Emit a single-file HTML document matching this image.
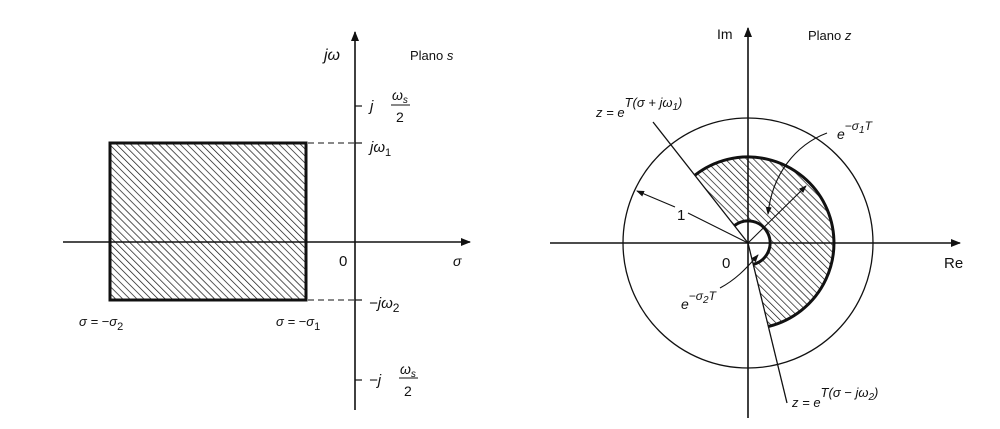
<!DOCTYPE html>
<html><head><meta charset="utf-8"><style>
html,body{margin:0;padding:0;background:#fff;}
svg{display:block;}
text{font-family:"Liberation Sans",sans-serif;fill:#111;}
.i{font-style:italic;}
</style></head><body>
<svg width="1000" height="429" viewBox="0 0 1000 429" xmlns="http://www.w3.org/2000/svg">
<defs>
<pattern id="h" patternUnits="userSpaceOnUse" width="5" height="5" patternTransform="rotate(-45)">
<line x1="0" y1="0" x2="0" y2="5" stroke="#111" stroke-width="1.4"/>
</pattern>
<marker id="a" markerWidth="10" markerHeight="8" refX="9" refY="4" orient="auto" markerUnits="userSpaceOnUse">
<path d="M0,0 L10,4 L0,8 Z" fill="#111"/></marker>
<marker id="s" markerWidth="8" markerHeight="6" refX="7" refY="3" orient="auto" markerUnits="userSpaceOnUse">
<path d="M0,0 L8,3 L0,6 Z" fill="#111"/></marker>
</defs>
<g stroke="#111" fill="none">
<rect x="110" y="143" width="196" height="157" fill="url(#h)" stroke-width="3"/>
<line x1="63" y1="242" x2="470" y2="242" stroke-width="1.6" marker-end="url(#a)"/>
<line x1="355" y1="410" x2="355" y2="32" stroke-width="1.6" marker-end="url(#a)"/>
<line x1="308" y1="143" x2="355" y2="143" stroke-dasharray="6,4" stroke-width="1"/>
<line x1="308" y1="300" x2="355" y2="300" stroke-dasharray="6,4" stroke-width="1"/>
<line x1="355" y1="106" x2="362" y2="106" stroke-width="1.2"/>
<line x1="355" y1="143" x2="362" y2="143" stroke-width="1.2"/>
<line x1="355" y1="300" x2="362" y2="300" stroke-width="1.2"/>
<line x1="355" y1="380" x2="362" y2="380" stroke-width="1.2"/>
<circle cx="748" cy="243" r="125" stroke-width="1.3"/>
<path d="M734.4,225.7 L695.0,175.2 A86,86 0 1 1 768.8,326.4 L753.3,264.3 A22,22 0 1 0 734.4,225.7 Z" fill="url(#h)" stroke="none"/>
<path d="M695.0,175.2 A86,86 0 1 1 768.8,326.4" stroke-width="3"/>
<path d="M753.3,264.3 A22,22 0 1 0 734.4,225.7" stroke-width="3"/>
<line x1="748" y1="243" x2="653" y2="122" stroke-width="1.3"/>
<line x1="748" y1="243" x2="787" y2="403" stroke-width="1.3"/>
<line x1="550" y1="243" x2="960" y2="243" stroke-width="1.6" marker-end="url(#a)"/>
<line x1="748" y1="418" x2="748" y2="28" stroke-width="1.6" marker-end="url(#a)"/>
<line x1="748" y1="243" x2="806" y2="186" stroke-width="1.1" marker-end="url(#s)"/>
<path d="M688,213 L748,243" stroke-width="1.1"/>
<path d="M675,207 L637,191" stroke-width="1.1" marker-end="url(#s)"/>
<path d="M827,133 C795,145 772,175 768,214" stroke-width="1.1" marker-end="url(#s)"/>
<path d="M720,288 C735,280 745,270 758,255" stroke-width="1.1" marker-end="url(#s)"/>
</g>
<text x="324" y="60" font-size="16" class="i">jω</text>
<text x="410" y="60" font-size="13">Plano <tspan class="i">s</tspan></text>
<text x="370" y="111" font-size="15" class="i">j</text>
<text x="392" y="100" font-size="14" class="i">ω<tspan font-size="10" dy="3">s</tspan></text>
<line x1="391" y1="105" x2="410" y2="105" stroke="#111" stroke-width="1"/>
<text x="396" y="122" font-size="14">2</text>
<text x="370" y="152" font-size="15" class="i">jω<tspan font-size="11" dy="4" font-style="normal">1</tspan></text>
<text x="339" y="266" font-size="15">0</text>
<text x="453" y="266" font-size="14" class="i">σ</text>
<text x="369" y="308" font-size="15" class="i">−jω<tspan font-size="12" dy="4" font-style="normal">2</tspan></text>
<text x="369" y="385" font-size="15" class="i">−j</text>
<text x="400" y="374" font-size="14" class="i">ω<tspan font-size="10" dy="3">s</tspan></text>
<line x1="399" y1="378" x2="418" y2="378" stroke="#111" stroke-width="1"/>
<text x="404" y="396" font-size="14">2</text>
<text x="79" y="326" font-size="13" class="i">σ = −σ<tspan font-size="11" dy="4" font-style="normal">2</tspan></text>
<text x="276" y="326" font-size="13" class="i">σ = −σ<tspan font-size="11" dy="4" font-style="normal">1</tspan></text>
<text x="717" y="39" font-size="14">Im</text>
<text x="808" y="40" font-size="13">Plano <tspan class="i">z</tspan></text>
<text x="944" y="268" font-size="15">Re</text>
<text x="722" y="268" font-size="15">0</text>
<text x="677" y="220" font-size="15">1</text>
<text x="596" y="117" font-size="13" class="i">z = e<tspan font-size="13" dy="-10">T(σ + jω<tspan font-size="10" dy="3">1</tspan><tspan dy="-3">)</tspan></tspan></text>
<text x="837" y="139" font-size="14" class="i">e<tspan font-size="12" dy="-9">−σ<tspan font-size="10" dy="3">1</tspan><tspan dy="-3">T</tspan></tspan></text>
<text x="681" y="309" font-size="14" class="i">e<tspan font-size="12" dy="-9">−σ<tspan font-size="10" dy="3">2</tspan><tspan dy="-3">T</tspan></tspan></text>
<text x="792" y="407" font-size="13" class="i">z = e<tspan font-size="13" dy="-10">T(σ − jω<tspan font-size="10" dy="3">2</tspan><tspan dy="-3">)</tspan></tspan></text>
</svg>
</body></html>
